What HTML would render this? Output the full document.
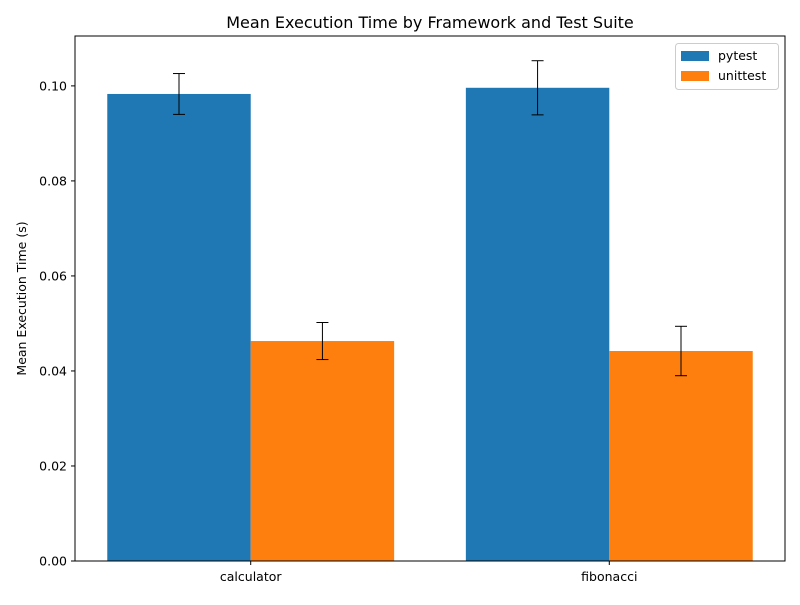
<!DOCTYPE html>
<html><head><meta charset="utf-8"><style>
body{margin:0;background:#fff;}
svg text{font-family:"DejaVu Sans","Liberation Sans",sans-serif;fill:#000;}
</style></head><body>
<svg id="chart" width="800" height="600" xmlns="http://www.w3.org/2000/svg"></svg>
<script>
const categories = ["calculator", "fibonacci"];
const seriesNames = ["pytest", "unittest"];
const pytestMeans = [0.0983, 0.0996];
const pytestErrs = [0.0043, 0.0057];
const unittestMeans = [0.0463, 0.0442];
const unittestErrs = [0.0039, 0.0052];
const yTicks = [0, 0.02, 0.04, 0.06, 0.08, 0.10];
const yTickLabels = ["0.00", "0.02", "0.04", "0.06", "0.08", "0.10"];

const colors = ["#1f77b4", "#ff7f0e"];
const L = 75, R = 785, T = 36, B = 561;
const xMin = -0.49, xMax = 1.49, yMin = 0, yMax = 0.1105;
const xs = v => L + (v - xMin) / (xMax - xMin) * (R - L);
const ys = v => B - (v - yMin) / (yMax - yMin) * (B - T);
const svg = document.getElementById('chart');
const NS = "http://www.w3.org/2000/svg";
function mk(tag, attrs, parent) {
  const e = document.createElementNS(NS, tag);
  for (const k in attrs) e.setAttribute(k, attrs[k]);
  (parent || svg).appendChild(e);
  return e;
}
const barW = 0.4;
const series = [[pytestMeans, pytestErrs], [unittestMeans, unittestErrs]];
series.forEach((s, si) => {
  const g = mk('g', {});
  
  
  categories.forEach((c, ci) => {
    const x0 = ci - barW + si * barW;
    const r = mk('rect', {x: xs(x0), y: ys(s[0][ci]), width: xs(x0 + barW) - xs(x0), height: ys(0) - ys(s[0][ci]), fill: colors[si]}, g);
    
    
  });
});
series.forEach((s, si) => {
  categories.forEach((c, ci) => {
    const cx = xs(ci - barW / 2 + si * barW);
    const hi = ys(s[0][ci] + s[1][ci]), lo = ys(s[0][ci] - s[1][ci]);
    const g = mk('g', {stroke: '#000', 'stroke-width': 1});
    
    
    mk('line', {x1: cx, x2: cx, y1: hi, y2: lo}, g);
    mk('line', {x1: cx - 6, x2: cx + 6, y1: hi, y2: hi}, g);
    mk('line', {x1: cx - 6, x2: cx + 6, y1: lo, y2: lo}, g);
  });
});
const frame = mk('rect', {x: L, y: T, width: R - L, height: B - T, fill: 'none', stroke: '#000', 'stroke-width': 1});


yTicks.forEach((v, i) => {
  const y = ys(v);
  mk('line', {x1: L - 4, x2: L, y1: y, y2: y, stroke: '#000'});
  const t = mk('text', {x: L - 8, y: y + 4.5, 'text-anchor': 'end', 'font-size': 12.5});
  t.textContent = yTickLabels[i];
  
  
});
categories.forEach((c, ci) => {
  const x = xs(ci);
  mk('line', {x1: x, x2: x, y1: B, y2: B + 4, stroke: '#000'});
  const t = mk('text', {x: x, y: B + 20, 'text-anchor': 'middle', 'font-size': 12.5});
  t.textContent = c;
  
  
});
const title = mk('text', {x: (L + R) / 2, y: 28, 'text-anchor': 'middle', 'font-size': 16});
title.textContent = "Mean Execution Time by Framework and Test Suite";


const yt = mk('text', {x: 26, y: (T + B) / 2, 'text-anchor': 'middle', 'font-size': 12.5, transform: 'rotate(-90 26 ' + ((T + B) / 2) + ')'});
yt.textContent = "Mean Execution Time (s)";


const lg = mk('g', {});


mk('rect', {x: 675.5, y: 43.5, width: 103, height: 46, rx: 3, fill: '#fff', stroke: '#ccc'}, lg);
seriesNames.forEach((n, i) => {
  const e = mk('g', {}, lg);
  
  
  mk('rect', {x: 681, y: 51 + i * 20, width: 28, height: 10, fill: colors[i]}, e);
  const t = mk('text', {x: 718, y: 60 + i * 20, 'font-size': 12.5}, e);
  t.textContent = n;
});
</script>
</body></html>
